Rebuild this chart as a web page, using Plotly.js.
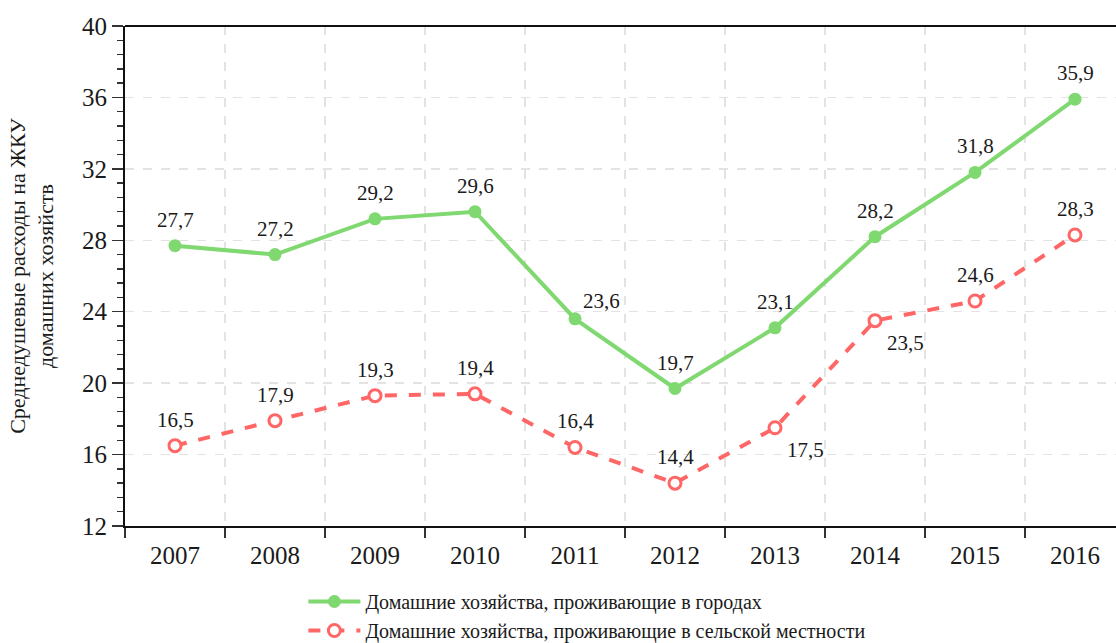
<!DOCTYPE html>
<html>
<head>
<meta charset="utf-8">
<script src="https://cdn.plot.ly/plotly-3.0.1.min.js"></script>
<style>html,body{margin:0;padding:0;background:#fff}#chart{width:1116px;height:643px}</style>
</head>
<body>
<div id="chart"></div>
<script>
const years = ["2007","2008","2009","2010","2011","2012","2013","2014","2015","2016"];
const urban = [27.7, 27.2, 29.2, 29.6, 23.6, 19.7, 23.1, 28.2, 31.8, 35.9];
const rural = [16.5, 17.9, 19.3, 19.4, 16.4, 14.4, 17.5, 23.5, 24.6, 28.3];
const urbanName = "Домашние хозяйства, проживающие в городах";
const ruralName = "Домашние хозяйства, проживающие в сельской местности";
// label placement per point: "t" above, "tr" above-right, "br" below-right
const urbanPos = ["t","t","t","t","tr","t","t","t","t","t"];
const ruralPos = ["t","t","t","t","t","t","br","br","t","t"];
const yTicks = [12, 16, 20, 24, 28, 32, 36, 40];

const fmt = v => v.toFixed(1).replace('.', ',');
const FONT = "Liberation Serif";
const SHIFT = {t: [0, 26], tr: [26, 18], br: [30, -22]};

const traces = [
  {
    x: years, y: urban, name: urbanName, type: "scatter", mode: "lines+markers",
    line: {color: "#7fd870", width: 4},
    marker: {color: "#7fd870", size: 13},
    cliponaxis: false
  },
  {
    x: years, y: rural, name: ruralName, type: "scatter", mode: "lines+markers",
    line: {color: "#ff6666", width: 4, dash: "dash"},
    marker: {color: "#ffffff", size: 12, symbol: "circle", line: {color: "#ff6666", width: 3}},
    cliponaxis: false
  }
];

// annotations on a category axis take the category's serial index
function labels(vals, pos) {
  return vals.map((v, i) => ({
    x: i, y: v, xref: "x", yref: "y", text: fmt(v), showarrow: false,
    xshift: SHIFT[pos[i]][0], yshift: SHIFT[pos[i]][1],
    font: {family: FONT, size: 21, color: "#1a1a1a"}
  }));
}

const layout = {
  width: 1116, height: 643,
  margin: {l: 125, r: 0, t: 26, b: 117, autoexpand: false},
  paper_bgcolor: "#fff", plot_bgcolor: "#fff",
  font: {family: FONT, size: 20, color: "#1a1a1a"},
  showlegend: true,
  legend: {
    x: 0.18, y: -0.112, xanchor: "left", yanchor: "top",
    orientation: "v", font: {family: FONT, size: 20, color: "#1a1a1a"},
    tracegroupgap: 0, itemwidth: 52
  },
  xaxis: {
    type: "category", range: [-0.5, 9.41],
    tickson: "boundaries", ticks: "outside", ticklen: 10, tickwidth: 1.5, tickcolor: "#333",
    showline: true, linecolor: "#111", linewidth: 2,
    showgrid: true, gridcolor: "#e3e3e3", griddash: "dash", gridwidth: 1.5,
    tickfont: {family: FONT, size: 25, color: "#1a1a1a"},
    ticklabelstandoff: 6,
    zeroline: false, fixedrange: true
  },
  yaxis: {
    range: [12, 40], tickvals: yTicks, ticktext: yTicks.map(String),
    ticks: "outside", ticklen: 11, tickwidth: 1.5, tickcolor: "#333",
    minor: {dtick: 0.8, tick0: 12, ticks: "outside", ticklen: 6, tickwidth: 1.5, tickcolor: "#333", showgrid: false},
    showline: true, linecolor: "#111", linewidth: 2,
    showgrid: true, gridcolor: "#e3e3e3", griddash: "dash", gridwidth: 1.5,
    tickfont: {family: FONT, size: 25, color: "#1a1a1a"},
    zeroline: false,
    title: {text: "Среднедушевые расходы на ЖКУ<br>домашних хозяйств", font: {family: FONT, size: 22, color: "#1a1a1a"}, standoff: 22}
  },
  annotations: labels(urban, urbanPos).concat(labels(rural, ruralPos)),
  shapes: [
    {type: "line", xref: "paper", yref: "paper", x0: 0, x1: 1, y0: 1, y1: 1, line: {color: "#111", width: 2}}
  ]
};

Plotly.newPlot("chart", traces, layout, {displayModeBar: false, staticPlot: true});
</script>
</body>
</html>
